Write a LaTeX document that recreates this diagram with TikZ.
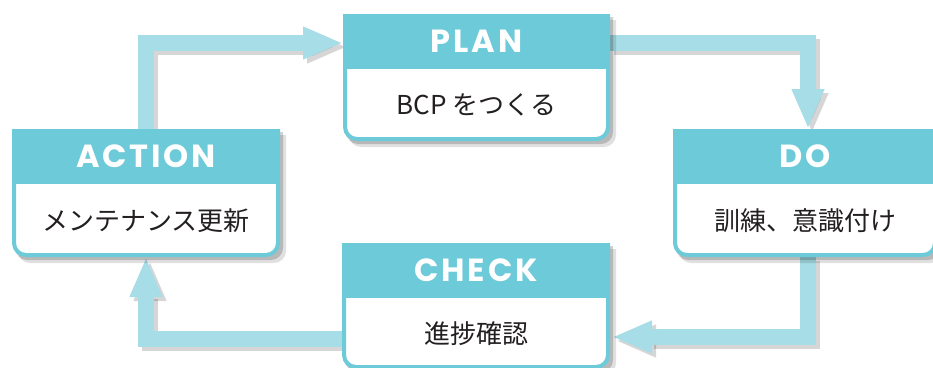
\documentclass[tikz,border=0pt]{standalone}
\usepackage{fontspec}
\newfontfamily\hdfont[LetterSpace=9]{Poppins}
\newfontfamily\jpfont{Noto Sans CJK JP}
\usetikzlibrary{arrows.meta,calc}
\definecolor{hdr}{HTML}{6DCAD9}
\definecolor{arrc}{HTML}{A7DDE7}
\definecolor{txt}{HTML}{231F20}
\tikzset{
  boxnode/.style={minimum width=#1, inner sep=0pt, outer sep=0pt, draw=none},
  hdtext/.style={text=white, font=\hdfont\bfseries\fontsize{32}{32}\selectfont, inner sep=0pt},
  bodytext/.style={text=txt, font=\jpfont\fontsize{26}{26}\selectfont, inner sep=0pt},
  arr/.style={draw=arrc, line width=16pt, line join=miter, -{Triangle[width=30pt,length=40pt]}},
  arrsh/.style={draw=black, opacity=0.16, line width=16pt, line join=miter, -{Triangle[width=30pt,length=40pt]}, transform canvas={xshift=4pt,yshift=-4pt}},
}
\newcommand\pdcabox[3]{%
  % shadow
  \fill[black, opacity=0.12, rounded corners=12pt]
    ($(#1.north west)+(6,6)$) -- ($(#1.south west)+(6,6)$) -- ($(#1.south east)+(6,6)$) -- ($(#1.north east)+(6,6)$);
  \fill[black, opacity=0.18, rounded corners=12pt]
    ($(#1.north west)+(3,3)$) -- ($(#1.south west)+(3,3)$) -- ($(#1.south east)+(3,3)$) -- ($(#1.north east)+(3,3)$);
  % body
  \path[fill=white, draw=hdr, line width=4pt, rounded corners=12pt]
    ($(#1.north west)+(2,0)$) -- ($(#1.south west)+(2,-2)$) -- ($(#1.south east)+(-2,-2)$) -- ($(#1.north east)+(-2,0)$);
  % header
  \fill[hdr] (#1.north west) rectangle ($(#1.north east)+(0,55)$);
  \node[hdtext] (#1-h) at ($(#1.north)+(0,27.5)$) {#2};
  \node[bodytext] (#1-b) at ($(#1.north)!0.5!(#1.south)+(0,27.5)$) {#3};
}
\begin{document}
\begin{tikzpicture}[x=1pt,y=-1pt]
\useasboundingbox (0,0) rectangle (933,367);
% box placeholders (centre, size)
\node[boxnode=267pt, minimum height=127pt] (plan)   at (476.5,77.5) {};
\node[boxnode=264pt, minimum height=128pt] (do)     at (805,193) {};
\node[boxnode=268pt, minimum height=128pt] (action) at (146,193) {};
\node[boxnode=268pt, minimum height=126pt] (check)  at (476,306) {};
% arrow shadows
\draw[arrsh] (action.north) |- ($(plan.north west)+(0,29)$);
\draw[arrsh] ($(plan.north east)+(0,29)$) -| ($(do.north)+(3,0)$);
\draw[arrsh] ($(do.south)+(3,0)$) |- ($(check.north east)+(2,94)$);
\draw[arrsh] ($(check.north west)+(0,96)$) -| (action.south);
% arrows
\draw[arr] (action.north) |- ($(plan.north west)+(0,29)$);
\draw[arr] ($(plan.north east)+(0,29)$) -| ($(do.north)+(3,0)$);
\draw[arr] ($(do.south)+(3,0)$) |- ($(check.north east)+(2,94)$);
\draw[arr] ($(check.north west)+(0,96)$) -| (action.south);
% boxes
\pdcabox{plan}{PLAN}{BCP をつくる}
\pdcabox{do}{DO}{訓練、意識付け}
\pdcabox{action}{ACTION}{メンテナンス更新}
\pdcabox{check}{CHECK}{進捗確認}
\end{tikzpicture}
\end{document}
